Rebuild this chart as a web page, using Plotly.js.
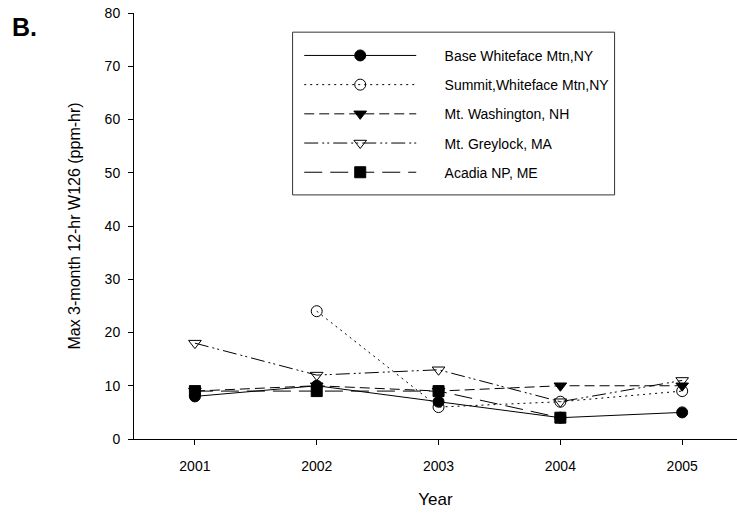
<!DOCTYPE html>
<html>
<head>
<meta charset="utf-8">
<script src="https://cdn.plot.ly/plotly-3.0.1.min.js"></script>
<style>html,body{margin:0;padding:0;background:#fff;}#chart{width:737px;height:514px;}</style>
</head>
<body>
<div id="chart"></div>
<script>
const years = [2001, 2002, 2003, 2004, 2005];
const seriesNames = ["Base Whiteface Mtn,NY", "Summit,Whiteface Mtn,NY", "Mt. Washington, NH", "Mt. Greylock, MA", "Acadia NP, ME"];
const baseWhiteface = [8, 10, 7, 4, 5];
const summitWhiteface = [null, 24, 6, 7, 9];
const mtWashington = [9, 10, 9, 10, 10];
const mtGreylock = [18, 12, 13, 7, 11];
const acadia = [9, 9, 9, 4, null];
const yTicks = [0, 10, 20, 30, 40, 50, 60, 70, 80];

const styles = [
  {dash: "solid", symbol: "circle"},
  {dash: "2px,4px", symbol: "circle-open"},
  {dash: "10px,5px", symbol: "triangle-down"},
  {dash: "14px,4px,2px,3px,2px,4px", symbol: "triangle-down-open"},
  {dash: "18px,8px", symbol: "square"}
];
const values = [baseWhiteface, summitWhiteface, mtWashington, mtGreylock, acadia];
const pad = "\u00a0\u00a0\u00a0\u00a0\u00a0\u00a0";

const traces = values.map((v, i) => ({
  x: years, y: v, name: pad + seriesNames[i], type: "scatter", mode: "lines+markers",
  legendgroup: "g" + i,
  connectgaps: false,
  line: {color: "#000", width: 1, dash: styles[i].dash},
  marker: {symbol: styles[i].symbol, size: 11, color: "#000", line: {color: "#000", width: 1}}
}));

const layout = {
  width: 737, height: 514,
  margin: {l: 134, r: 0, t: 13, b: 75},
  paper_bgcolor: "#fff", plot_bgcolor: "#fff",
  font: {family: "Liberation Sans, Arial, sans-serif", color: "#000", size: 14},
  showlegend: true,
  legend: {
    x: 0.274, y: 0.937, xanchor: "left", yanchor: "top",
    borderwidth: 0, bgcolor: "rgba(0,0,0,0)",
    font: {size: 14, family: "Liberation Sans, Arial, sans-serif"},
    itemwidth: 112, tracegroupgap: 8
  },
  shapes: [{
    type: "rect", xref: "paper", yref: "paper",
    x0: 0.263, x1: 0.797, y0: 0.573, y1: 0.955,
    line: {color: "#333", width: 1}, fillcolor: "#fff", layer: "below"
  }],
  xaxis: {
    range: [2000.5, 2005.45], tickvals: years, ticktext: years.map(String),
    showline: true, linecolor: "#000", linewidth: 1, showgrid: false, zeroline: false,
    ticks: "outside", ticklen: 5, tickcolor: "#000", ticklabelstandoff: 9,
    tickfont: {size: 14},
    title: {text: "Year", font: {size: 17}, standoff: 20}
  },
  yaxis: {
    range: [0, 80], tickvals: yTicks,
    showline: true, linecolor: "#000", linewidth: 1, showgrid: false, zeroline: false,
    ticks: "outside", ticklen: 5, tickcolor: "#000", ticklabelstandoff: 5,
    tickfont: {size: 14},
    title: {text: "Max 3-month 12-hr W126 (ppm-hr)", font: {size: 16}, standoff: 20}
  },
  annotations: [{
    text: "<b>B.</b>", xref: "paper", yref: "paper", x: -0.205, y: 1.0, xanchor: "left", yanchor: "top",
    yshift: 2,
    showarrow: false, font: {size: 25, family: "Liberation Sans, Arial, sans-serif"}
  }]
};

Plotly.newPlot("chart", traces, layout, {displayModeBar: false, staticPlot: true});
</script>
</body>
</html>
